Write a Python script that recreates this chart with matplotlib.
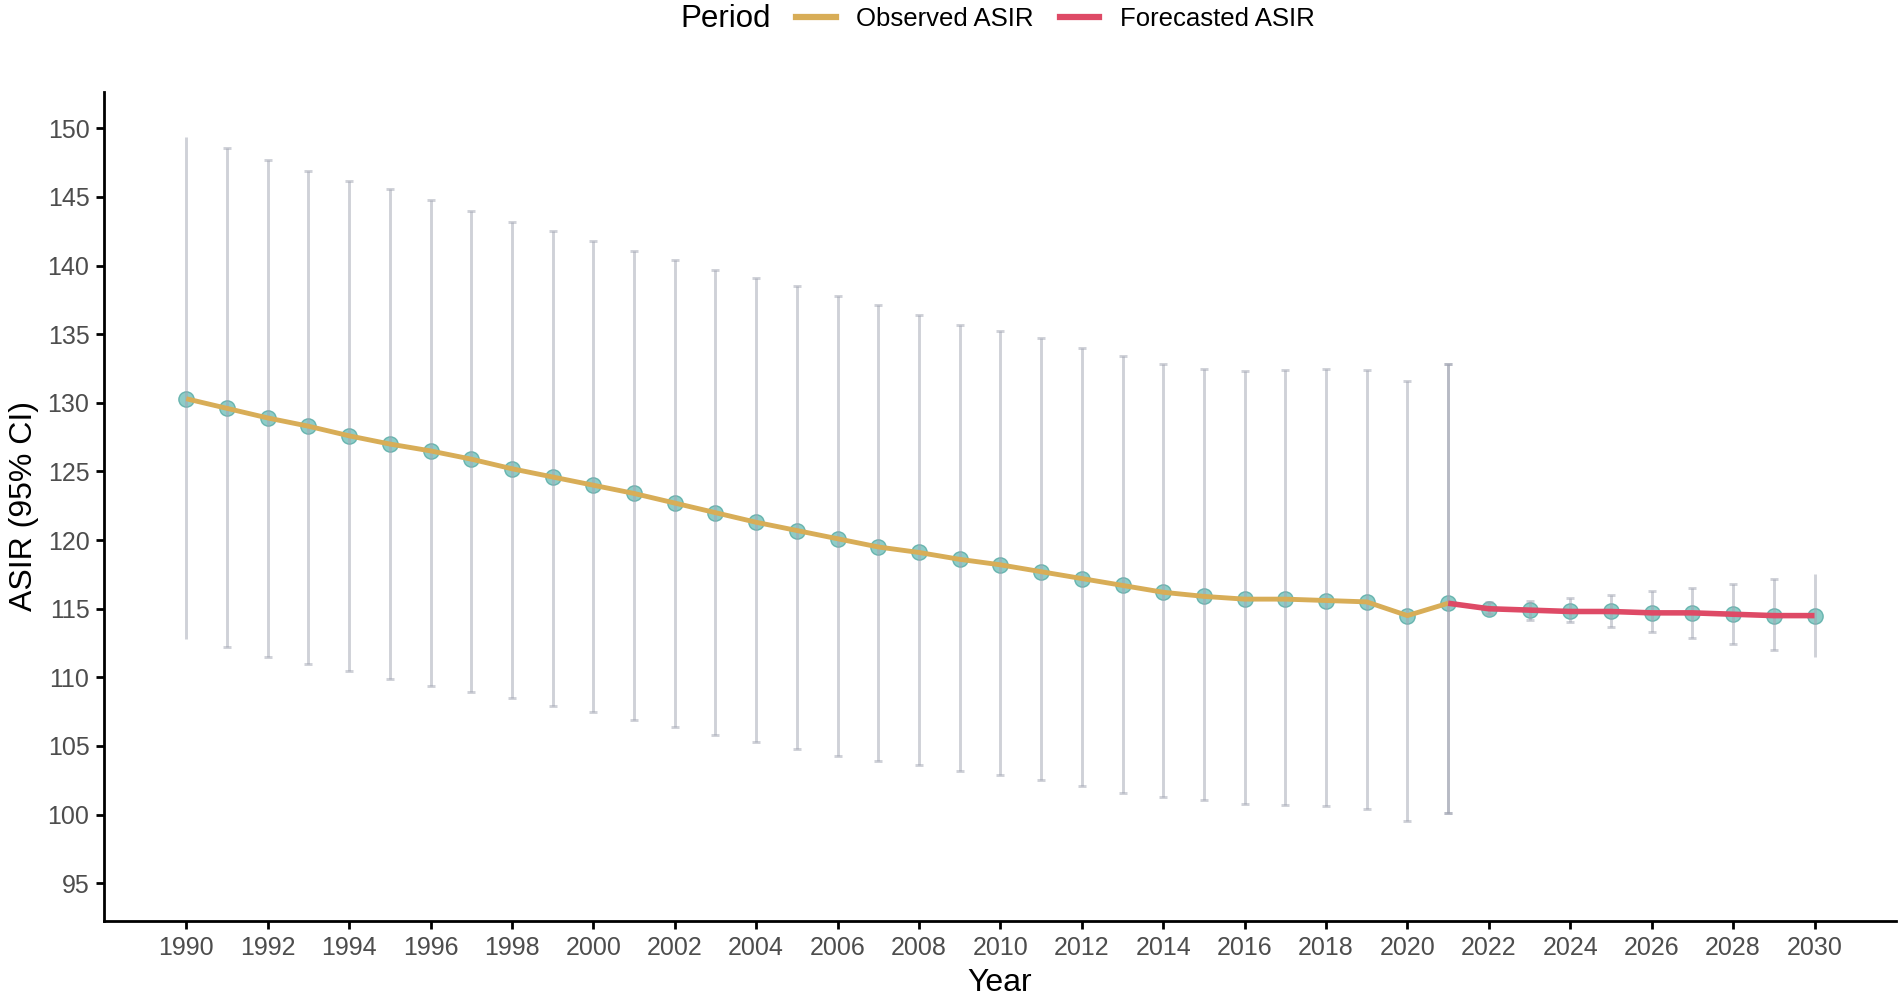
import numpy as np
import matplotlib.pyplot as plt
from matplotlib.lines import Line2D

plt.rcParams['font.family'] = ['Liberation Sans', 'DejaVu Sans']

# OBSERVED ASIR (1990-2021)
obs_years = list(range(1990, 2022))
obs_asir = [130.3, 129.6, 128.9, 128.3, 127.6, 127.0, 126.5, 125.9, 125.2, 124.6,
            124.0, 123.4, 122.7, 122.0, 121.3, 120.7, 120.1, 119.5, 119.1, 118.6,
            118.2, 117.7, 117.2, 116.7, 116.2, 115.9, 115.7, 115.7, 115.6, 115.5,
            114.5, 115.4]
obs_upper = [149.4, 148.6, 147.7, 146.9, 146.2, 145.6, 144.8, 144.0, 143.2, 142.5,
             141.8, 141.1, 140.4, 139.7, 139.1, 138.5, 137.8, 137.1, 136.4, 135.7,
             135.2, 134.7, 134.0, 133.4, 132.8, 132.5, 132.3, 132.4, 132.5, 132.4,
             131.6, 132.8]
obs_lower = [112.8, 112.2, 111.5, 111.0, 110.5, 109.9, 109.4, 108.9, 108.5, 107.9,
             107.5, 106.9, 106.4, 105.8, 105.3, 104.8, 104.3, 103.9, 103.6, 103.2,
             102.9, 102.5, 102.1, 101.6, 101.3, 101.1, 100.8, 100.7, 100.6, 100.4,
             99.5, 100.1]

# FORECASTED ASIR (2021-2030)
fc_years = list(range(2021, 2031))
fc_asir = [115.4, 115.0, 114.9, 114.8, 114.8, 114.7, 114.7, 114.6, 114.5, 114.5]
fc_upper = [132.8, 115.5, 115.6, 115.8, 116.0, 116.3, 116.5, 116.8, 117.2, 117.5]
fc_lower = [100.1, 114.6, 114.2, 114.0, 113.7, 113.3, 112.9, 112.4, 112.0, 111.5]

gold = '#D8AD57'
red = '#DE4A66'
teal = '#82C7C1'
bar_col = '#A0A4B2'

fig = plt.figure(figsize=(19.02, 10), dpi=100)
ax = fig.add_axes([0.0547, 0.079, 0.9421, 0.8293])


def draw_bars(years, mid, lo, hi, cap_idx):
    mid = np.array(mid)
    err = [mid - np.array(lo), np.array(hi) - mid]
    yrs = np.array(years)
    for caps in (True, False):
        sel = np.array([(i in cap_idx) == caps for i in range(len(years))])
        if sel.any():
            ax.errorbar(yrs[sel], mid[sel],
                        yerr=[err[0][sel], err[1][sel]],
                        fmt='none', ecolor=bar_col, alpha=0.5,
                        elinewidth=2.1, capsize=3.2 if caps else 0,
                        capthick=2.1, zorder=3)


draw_bars(obs_years, obs_asir, obs_lower, obs_upper,
          cap_idx=range(1, len(obs_years)))
draw_bars(fc_years, fc_asir, fc_lower, fc_upper,
          cap_idx=range(0, len(fc_years) - 1))

# points
ax.plot(obs_years + fc_years[1:], obs_asir + fc_asir[1:], 'o', ms=11,
        mfc=teal, mec='#5FB0AA', mew=1.0, alpha=0.9, ls='none', zorder=2)

# lines
ax.plot(obs_years, obs_asir, color=gold, lw=3.5, solid_capstyle='butt',
        zorder=4)
ax.plot(fc_years, fc_asir, color=red, lw=4.0, solid_capstyle='butt',
        zorder=4)

ax.set_xlim(1987.98, 2032.0)
ax.set_ylim(92.25, 152.67)
ax.set_xticks(np.arange(1990, 2031, 2))
ax.set_yticks(np.arange(95, 151, 5))

for s in ['top', 'right']:
    ax.spines[s].set_visible(False)
for s in ['left', 'bottom']:
    ax.spines[s].set_linewidth(2.0)
    ax.spines[s].set_color('black')
ax.tick_params(axis='both', length=5.5, width=2.0, color='black',
               labelsize=18, labelcolor='#4D4D4D', pad=5)

ax.set_xlabel('Year', fontsize=23, color='black', labelpad=6)
ax.set_ylabel('ASIR (95% CI)', fontsize=23, color='black', labelpad=6)

# legend on top
fig.text(680 / 1902, 1 - 19 / 1000, 'Period', fontsize=22.5,
         ha='left', va='center', color='black')
handles = [Line2D([], [], color=gold, lw=4.5),
           Line2D([], [], color=red, lw=4.5)]
fig.legend(handles, ['Observed ASIR', 'Forecasted ASIR'],
           loc='center left', bbox_to_anchor=(796 / 1902, 1 - 19 / 1000),
           ncol=2, frameon=False, fontsize=18.5, borderpad=0,
           borderaxespad=0, handlelength=1.55, handletextpad=0.8,
           columnspacing=1.0)

fig.savefig('out.png', dpi=100)
